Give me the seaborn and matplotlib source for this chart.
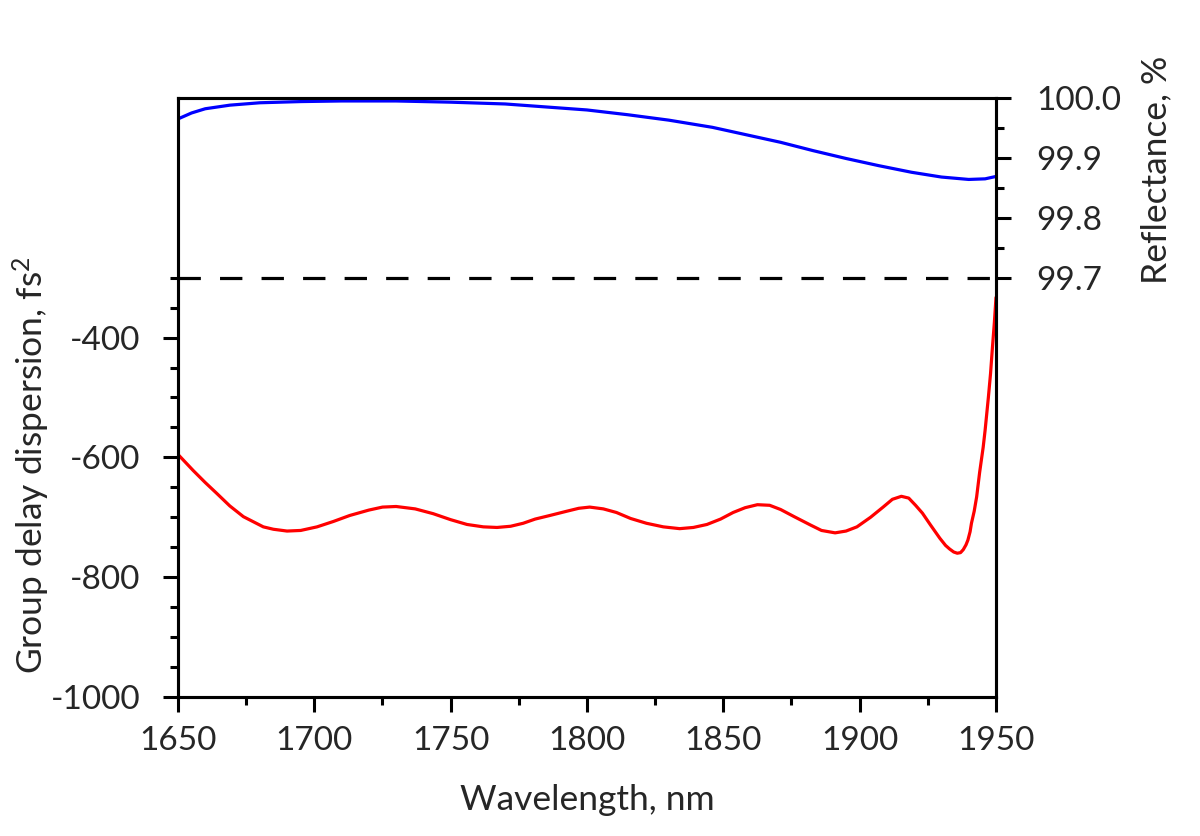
import matplotlib
matplotlib.use("Agg")
import matplotlib.pyplot as plt
import seaborn as sns
import pandas as pd
from matplotlib.ticker import FixedLocator, FormatStrFormatter

# group delay dispersion (red)
gdd_wl = [1650, 1655.6, 1660, 1664.2, 1669, 1674, 1681.3, 1685, 1690, 1695, 1701, 1707,
          1713, 1720, 1725, 1730, 1737, 1743.6, 1750, 1756, 1762, 1767, 1772, 1776.6,
          1781, 1786.4, 1792.5, 1797, 1801, 1806, 1810.8, 1816, 1821.8, 1828, 1834,
          1839, 1844, 1849, 1853.6, 1858, 1862.5, 1867, 1871, 1876, 1882, 1886, 1891,
          1895, 1899, 1904, 1908.6, 1912, 1915.3, 1918, 1920.5, 1923, 1926, 1929.4,
          1931.5, 1933, 1934.5, 1935.8, 1937, 1938, 1939, 1939.7, 1940.5, 1941,
          1942, 1942.9, 1944, 1945.3, 1946, 1947.2, 1948, 1948.7, 1949.4, 1950]
gdd_val = [-595, -622, -642, -660, -681, -699, -716, -720, -723, -722, -716, -707,
           -697, -688, -683, -682, -686, -694, -704, -712, -716, -717, -715, -710,
           -703, -697, -690, -685, -683, -686, -692, -702, -710, -716, -719,
           -717, -712, -703, -692, -684, -679, -680, -687, -699, -713, -722, -726,
           -723, -716, -700, -683, -670, -665, -668, -680, -693, -713, -735,
           -747, -753, -758, -760, -759, -754, -746, -738, -724, -710,
           -690, -666, -625, -583, -555, -500, -460, -416, -375, -333]

# reflectance (blue)
refl_wl = [1650, 1655, 1660, 1669, 1680, 1695, 1710, 1730, 1750, 1770, 1785, 1800,
           1815, 1830, 1846, 1860, 1871, 1883, 1895, 1907, 1919, 1930, 1940, 1946, 1950]
refl_val = [99.965, 99.975, 99.982, 99.988, 99.992, 99.994, 99.995, 99.995, 99.993,
            99.990, 99.985, 99.980, 99.972, 99.963, 99.951, 99.937, 99.926, 99.912,
            99.899, 99.887, 99.876, 99.868, 99.864, 99.865, 99.869]

refl_limit = 99.7

x_major = [1650, 1700, 1750, 1800, 1850, 1900, 1950]
x_minor = [1675, 1725, 1775, 1825, 1875, 1925]
gdd_major = [-1000, -800, -600, -400]
gdd_minor = [-950, -900, -850, -750, -700, -650, -550, -500, -450, -350, -300]
refl_major = [99.7, 99.8, 99.9, 100.0]
refl_minor = [99.75, 99.85, 99.95]

gdd_df = pd.DataFrame({"wl": gdd_wl, "gdd": gdd_val})
refl_df = pd.DataFrame({"wl": refl_wl, "refl": refl_val})

sns.set_style("ticks")
plt.rcParams['font.family'] = ['Lato', 'DejaVu Sans']
plt.rcParams['mathtext.default'] = 'regular'
plt.rcParams['axes.unicode_minus'] = False

fig = plt.figure(figsize=(12, 8.36), dpi=100)
ax = fig.add_axes([0.1483, 0.1663, 0.6817, 0.7165])
ax2 = ax.twinx()

sns.lineplot(data=gdd_df, x="wl", y="gdd", ax=ax, color="#ff0000", linewidth=2.3)
sns.lineplot(data=refl_df, x="wl", y="refl", ax=ax2, color="#0000ff", linewidth=2.3)
ax2.axhline(refl_limit, color="black", linewidth=2.3, dashes=(7, 6))

ax.set_xlim(1650, 1950)
ax.set_ylim(-1000, 0)
ax2.set_ylim(99.0, 100.0)

ax.xaxis.set_major_locator(FixedLocator(x_major))
ax.xaxis.set_minor_locator(FixedLocator(x_minor))
ax.yaxis.set_major_locator(FixedLocator(gdd_major))
ax.yaxis.set_minor_locator(FixedLocator(gdd_minor))
ax2.yaxis.set_major_locator(FixedLocator(refl_major))
ax2.yaxis.set_minor_locator(FixedLocator(refl_minor))
ax2.yaxis.set_major_formatter(FormatStrFormatter("%.1f"))

for a in (ax, ax2):
    for s in a.spines.values():
        s.set_visible(True)
        s.set_linewidth(2.2)
        s.set_color("black")
    a.tick_params(which="major", length=11, width=2.2, color="black", labelsize=24)
    a.tick_params(which="minor", length=5.5, width=2.2, color="black")

ax.tick_params(axis="x", which="both", direction="out", top=False, pad=10)
ax.tick_params(axis="y", which="both", direction="out", left=True, right=False, pad=16)
ax2.tick_params(axis="y", which="both", direction="out", right=True, left=False, pad=18)

ax.set_xlabel("Wavelength, nm", fontsize=25.5, labelpad=20)
ax.set_ylabel("Group delay dispersion, fs$^2$", fontsize=25.5)
ax.yaxis.set_label_coords(-0.154, 0.387)
ax2.set_ylabel("Reflectance, %", fontsize=25.5)
ax2.yaxis.set_label_coords(1.176, 0.88)

fig.savefig("out.png", dpi=100)
